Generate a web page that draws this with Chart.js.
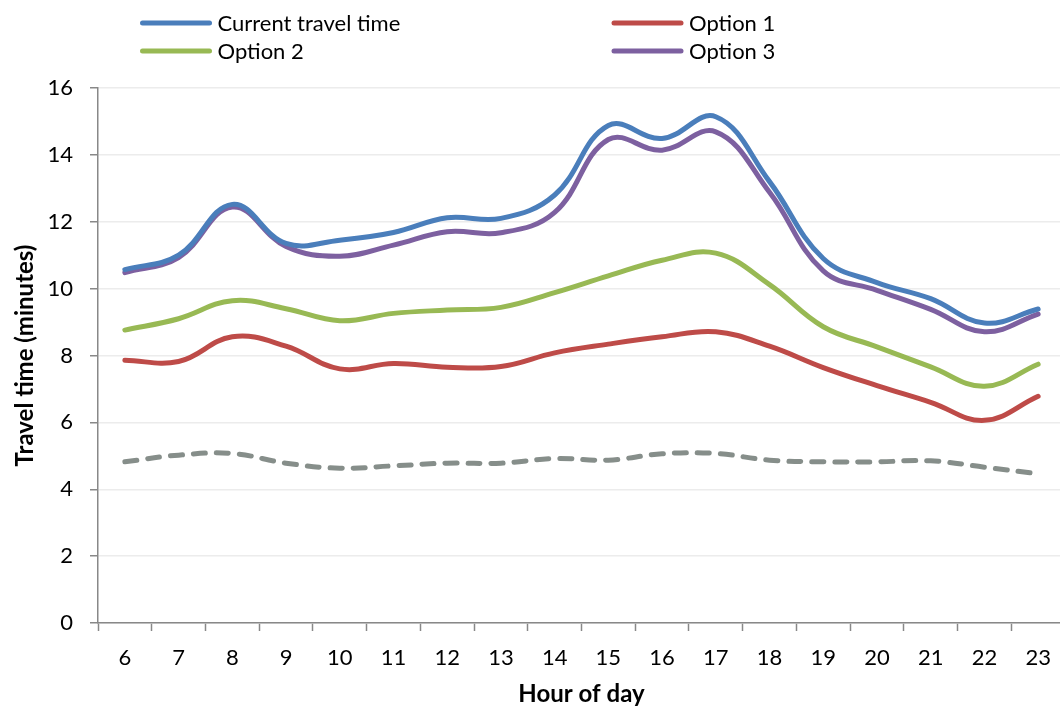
<!DOCTYPE html>
<html>
<head>
<meta charset="utf-8">
<script src="https://cdn.jsdelivr.net/npm/chart.js@4/dist/chart.umd.min.js"></script>
<style>
  html, body { margin: 0; padding: 0; background: #fff; overflow: hidden; }
  #wrap { width: 1060px; height: 706px; overflow: hidden; position: relative; }
  canvas { display: block; }
</style>
</head>
<body>
<div id="wrap"><canvas id="c" width="1072" height="706"></canvas></div>
<script>
const hours = ["6","7","8","9","10","11","12","13","14","15","16","17","18","19","20","21","22","23"];
const currentTravelTime = [10.57, 11.0, 12.52, 11.35, 11.45, 11.68, 12.12, 12.1, 12.8, 14.88, 14.49, 15.14, 13.2, 10.9, 10.18, 9.7, 8.97, 9.39];
const option1 = [7.86, 7.82, 8.56, 8.28, 7.6, 7.76, 7.65, 7.67, 8.08, 8.34, 8.56, 8.71, 8.28, 7.64, 7.1, 6.6, 6.06, 6.78];
const option2 = [8.76, 9.1, 9.64, 9.4, 9.04, 9.26, 9.36, 9.44, 9.88, 10.38, 10.85, 11.06, 10.12, 8.86, 8.26, 7.66, 7.08, 7.74];
const option3 = [10.48, 10.93, 12.44, 11.26, 10.97, 11.3, 11.7, 11.67, 12.28, 14.46, 14.14, 14.69, 12.88, 10.53, 9.95, 9.38, 8.71, 9.24];
const baseline = [4.82, 5.02, 5.07, 4.78, 4.63, 4.7, 4.78, 4.78, 4.92, 4.87, 5.06, 5.07, 4.87, 4.82, 4.82, 4.85, 4.66, 4.46];
const yTicks = [0, 2, 4, 6, 8, 10, 12, 14, 16];

const FONT = "Lato, 'Open Sans', sans-serif";

const legendPlugin = {
  id: 'customLegend',
  afterDraw(chart) {
    const ctx = chart.ctx;
    const pos = [[142.5, 23], [614, 23], [142.5, 51], [614, 51]];
    let i = 0;
    chart.data.datasets.forEach(ds => {
      if (!ds.label) return;
      const p = pos[i++];
      ctx.save();
      ctx.strokeStyle = ds.borderColor;
      ctx.lineWidth = 5;
      ctx.lineCap = 'round';
      ctx.beginPath();
      ctx.moveTo(p[0], p[1]);
      ctx.lineTo(p[0] + 67, p[1]);
      ctx.stroke();
      ctx.fillStyle = '#000';
      ctx.font = "22px " + FONT;
      ctx.textBaseline = 'middle';
      ctx.textAlign = 'left';
      ctx.fillText(ds.label, p[0] + 75, p[1] + 1);
      ctx.restore();
    });
  }
};

const mk = (label, data, color, extra) => Object.assign({
  label, data, borderColor: color, backgroundColor: color,
  borderWidth: 5, pointRadius: 0, tension: 0.4, fill: false,
  borderCapStyle: 'round', borderJoinStyle: 'round'
}, extra || {});

new Chart(document.getElementById('c'), {
  type: 'line',
  data: {
    labels: hours,
    datasets: [
      mk('Current travel time', currentTravelTime, '#4A7EBB'),
      mk('Option 1', option1, '#BE4B48'),
      mk('Option 2', option2, '#98B954'),
      mk('Option 3', option3, '#7D60A0'),
      mk('', baseline, '#868E8A', { borderDash: [12, 11], borderCapStyle: 'round' })
    ]
  },
  options: {
    responsive: false,
    animation: false,
    events: [],
    layout: { padding: { top: 88, right: 7, left: 0, bottom: 0 } },
    plugins: { legend: { display: false }, tooltip: { enabled: false } },
    scales: {
      x: {
        offset: true,
        grid: { offset: true, drawOnChartArea: false, tickLength: 8, tickColor: '#888', tickWidth: 1.5 },
        border: { color: '#888', width: 1.5 },
        ticks: { color: '#000', font: { family: FONT, size: 22 }, padding: 14, maxRotation: 0, autoSkip: false },
        title: { display: true, text: 'Hour of day', color: '#000', font: { family: FONT, size: 24, weight: 'bold', lineHeight: 1 }, padding: { top: 0, bottom: 0 } },
        afterFit(s) { s.height = 83; }
      },
      y: {
        min: 0, max: 16,
        afterBuildTicks(s) { s.ticks = yTicks.map(v => ({ value: v })); },
        grid: { color: '#ECECEC', lineWidth: 1.5, tickLength: 8, tickColor: '#888', tickWidth: 1.5 },
        border: { color: '#888', width: 1.5 },
        ticks: { color: '#000', font: { family: FONT, size: 22 }, padding: 17 },
        title: { display: true, text: 'Travel time (minutes)', color: '#000', font: { family: FONT, size: 24, weight: 'bold', lineHeight: 1 }, padding: { top: 13, bottom: 0 } },
        afterFit(s) { s.width = 98; }
      }
    }
  },
  plugins: [legendPlugin]
});
</script>
</body>
</html>
